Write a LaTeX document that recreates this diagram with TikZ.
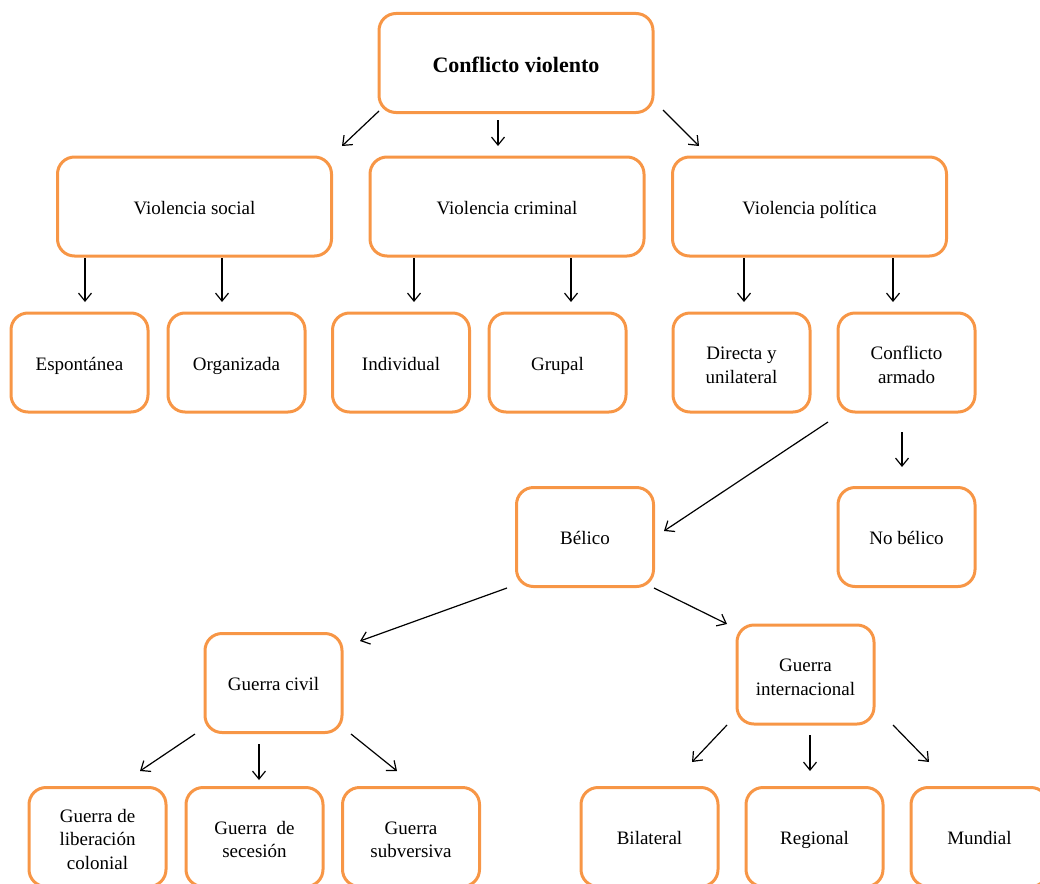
\documentclass[tikz,border=0pt]{standalone}
\usepackage{fontspec}
\setmainfont{Liberation Serif}
\usetikzlibrary{arrows.meta}
\definecolor{boxorange}{RGB}{247,150,70}
% raised first line for stacked labels
\newcommand\tallstrut{\rule{0pt}{22.5pt}}
\begin{document}
\begin{tikzpicture}[x=1pt,y=-1pt,
  box/.style={draw=boxorange, line width=3pt, rounded corners=17pt,
    minimum width=137pt, minimum height=99pt, inner sep=0pt,
    align=center, font=\fontsize{19}{23.5}\selectfont,
    execute at begin node={\rule{0pt}{20pt}},
    execute at end node={\rule[-5pt]{0pt}{5pt}}},
  widebox/.style={box, minimum width=274pt},
  titlebox/.style={widebox, font=\fontsize{22}{26}\selectfont\bfseries,
    execute at begin node={\rule{0pt}{23pt}}},
  arr/.style={draw=black, line width=1.2pt,
    -{Straight Barb[length=8pt,width=13pt,line width=1.2pt]}}]
\useasboundingbox (0,0) rectangle (1040,883);
\clip (0,0) rectangle (1040,883);

% level 0
\node[titlebox] (top) at (516,63) {Conflicto violento};

% level 1
\node[widebox] (vs) at (194.5,206.5) {Violencia social};
\node[widebox] (vc) at (507,206.5) {Violencia criminal};
\node[widebox] (vp) at (809.5,206.5) {Violencia política};

% level 2
\node[box] (esp) at (79.5,362.5) {Espontánea};
\node[box] (org) at (236.5,362.5) {Organizada};
\node[box] (ind) at (401,362.5) {Individual};
\node[box] (gru) at (557.5,362.5) {Grupal};
\node[box] (dir) at (741.5,362.5) {\tallstrut Directa y\\unilateral};
\node[box] (arm) at (906.5,362.5) {\tallstrut Conflicto\\armado};

% level 3
\node[box] (bel) at (585,537) {Bélico};
\node[box] (nob) at (906.5,537) {No bélico};

% level 4
\node[box] (gc) at (273.5,683) {Guerra civil};
\node[box] (gi) at (805.5,674.5) {\tallstrut Guerra\\internacional};

% level 5
\node[box] (glc) at (97.5,837) {\tallstrut Guerra de\\liberación\\colonial};
\node[box] (gs) at (254.5,837) {\tallstrut Guerra\ \ de\\secesión};
\node[box] (gsub) at (411,837) {\tallstrut Guerra\\subversiva};
\node[box] (bil) at (649.5,837) {Bilateral};
\node[box] (reg) at (814.5,837) {Regional};
\node[box] (mun) at (979.5,837) {Mundial};

% free-standing arrow end points
\coordinate (a1s) at (379,111);  \coordinate (a1e) at (342,146);
\coordinate (a2s) at (498,120);  \coordinate (a2e) at (498,146);
\coordinate (a3s) at (663,110);  \coordinate (a3e) at (699,146);
\coordinate (b1s) at (85,258);   \coordinate (b1e) at (85,302);
\coordinate (b2s) at (222,258);  \coordinate (b2e) at (222,302);
\coordinate (b3s) at (414,258);  \coordinate (b3e) at (414,302);
\coordinate (b4s) at (571,258);  \coordinate (b4e) at (571,302);
\coordinate (b5s) at (744,258);  \coordinate (b5e) at (744,302);
\coordinate (b6s) at (893,258);  \coordinate (b6e) at (893,302);
\coordinate (c1s) at (828,422);  \coordinate (c1e) at (664,531);
\coordinate (c2s) at (902,432);  \coordinate (c2e) at (902,467);
\coordinate (d1s) at (507,588);  \coordinate (d1e) at (360,641);
\coordinate (d2s) at (654,588);  \coordinate (d2e) at (727,624);
\coordinate (e1s) at (195,734);  \coordinate (e1e) at (140,771);
\coordinate (e2s) at (259,744);  \coordinate (e2e) at (259,780);
\coordinate (e3s) at (351,734);  \coordinate (e3e) at (397,771);
\coordinate (f1s) at (727,725);  \coordinate (f1e) at (692,762);
\coordinate (f2s) at (810,735);  \coordinate (f2e) at (810,771);
\coordinate (f3s) at (893,725);  \coordinate (f3e) at (929,762);

\foreach \a in {a1,a2,a3,b1,b2,b3,b4,b5,b6,c1,c2,d1,d2,e1,e2,e3,f1,f2,f3}
  \draw[arr] (\a s) -- (\a e);
\end{tikzpicture}
\end{document}
